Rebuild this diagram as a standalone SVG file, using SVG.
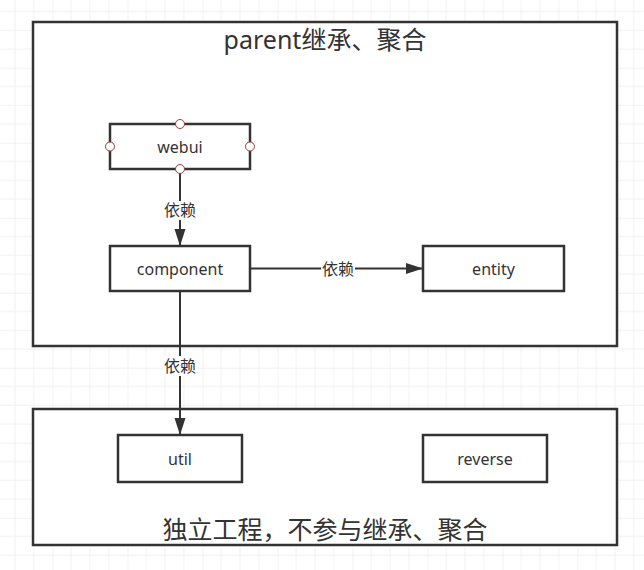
<svg xmlns="http://www.w3.org/2000/svg" width="644" height="570" viewBox="0 0 644 570">
<style>
.box{fill:#fff;stroke:#333;stroke-width:2.5}
.edge{fill:none;stroke:#333;stroke-width:2}
.lbl{font-family:"Noto Sans","Noto Sans CJK SC",sans-serif;fill:#333;text-anchor:middle}
.node{font-size:16px}
.elbl{font-size:16px;font-family:"Noto Sans CJK SC",sans-serif}
.pt{fill:#fff;stroke:#9c3a3a;stroke-width:1}
.title{font-family:"Noto Sans","Noto Sans CJK SC",sans-serif;fill:#333;text-anchor:middle}
</style>
<defs>
<pattern id="grid" patternUnits="userSpaceOnUse" x="52.5" y="67.75" width="75" height="75">
<path d="M18.75 0V75M37.5 0V75M56.25 0V75M0 18.75H75M0 37.5H75M0 56.25H75" stroke="#f1f1f1" stroke-width="1" fill="none"/>
<path d="M0 0V75M0 0H75" stroke="#e6e6e6" stroke-width="1" fill="none"/>
</pattern>
<marker id="arr" markerUnits="userSpaceOnUse" markerWidth="18" markerHeight="12" refX="17" refY="6" orient="auto">
<path d="M0 0.5L17 6L0 11.5Z" fill="#333"/>
</marker>
</defs>
<rect width="644" height="570" fill="#fff"/>
<rect width="644" height="570" fill="url(#grid)"/>

<g id="parent">
<rect class="box" x="33" y="22" width="584" height="324"/>
<text class="title" x="325" y="49" font-size="25">parent继承、聚合</text>
</g>
<g id="standalone">
<rect class="box" x="33" y="409" width="584" height="136"/>
<text class="title" x="325" y="539" font-size="25">独立工程，不参与继承、聚合</text>
</g>

<g id="edges">
<path class="edge" d="M180 169V246" marker-end="url(#arr)"/>
<rect x="163" y="201" width="34" height="19" fill="#fff"/>
<text class="lbl elbl" x="180" y="216">依赖</text>
<path class="edge" d="M250 268.5H423" marker-end="url(#arr)"/>
<rect x="321" y="260" width="34" height="18" fill="#fff"/>
<text class="lbl elbl" x="338" y="274.5">依赖</text>
<path class="edge" d="M180 291.5V435" marker-end="url(#arr)"/>
<rect x="163" y="356" width="34" height="20" fill="#fff"/>
<text class="lbl elbl" x="180" y="371.5">依赖</text>
</g>

<g id="webui">
<rect class="box" x="110" y="124" width="140" height="45"/>
<text class="lbl node" x="180" y="152.5">webui</text>
<circle class="pt" cx="180" cy="124" r="4.5"/>
<circle class="pt" cx="180" cy="169" r="4.5"/>
<circle class="pt" cx="110" cy="146.5" r="4.5"/>
<circle class="pt" cx="250" cy="146.5" r="4.5"/>
</g>
<g id="component">
<rect class="box" x="110" y="246" width="140" height="45"/>
<text class="lbl node" x="180" y="274.5">component</text>
</g>
<g id="entity">
<rect class="box" x="423" y="246" width="141" height="45"/>
<text class="lbl node" x="493.5" y="274.5">entity</text>
</g>
<g id="util">
<rect class="box" x="118" y="435" width="124" height="47"/>
<text class="lbl node" x="180" y="464.5">util</text>
</g>
<g id="reverse">
<rect class="box" x="423" y="435" width="124" height="47"/>
<text class="lbl node" x="485" y="464.5">reverse</text>
</g>
</svg>
